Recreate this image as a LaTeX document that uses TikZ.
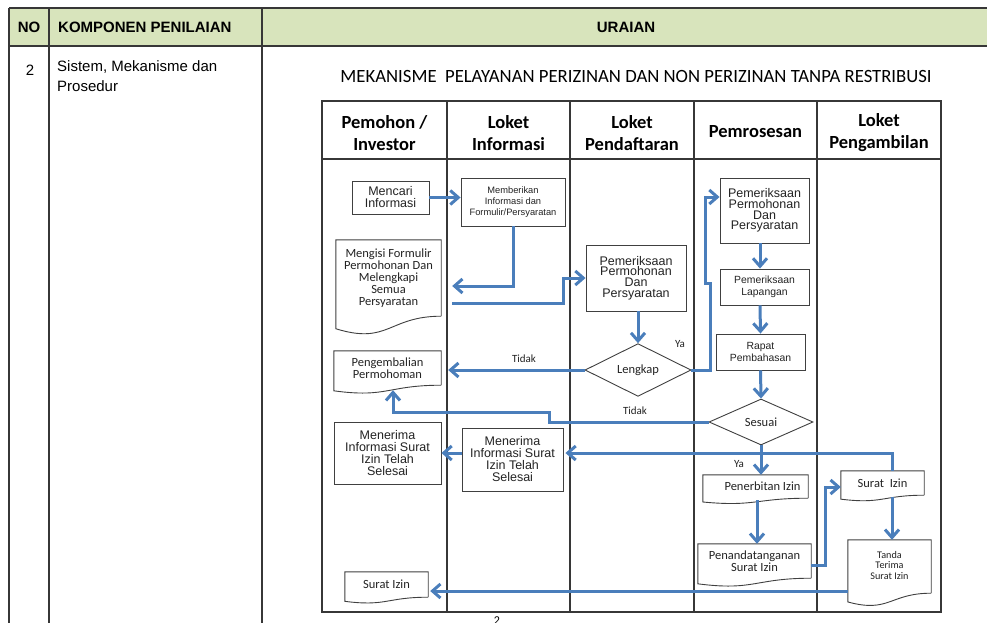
\documentclass[tikz,border=0pt]{standalone}
\usepackage{fontspec}
\setmainfont{Carlito}
\newfontfamily\arialf{Liberation Sans}
\usetikzlibrary{arrows.meta,shapes.geometric,calc}
\definecolor{flow}{RGB}{74,126,187}
\definecolor{boxc}{RGB}{64,64,64}
\definecolor{hdr}{RGB}{216,228,188}
\definecolor{txt}{RGB}{35,35,35}
\definecolor{grid}{RGB}{55,55,55}
\newcommand\docout[2]{%
  \draw[boxline] (#1.south east) -- (#1.north east) -- (#1.north west)
    -- ([yshift=-0.165*#2pt]#1.south west)
    .. controls ([yshift=-0.380*#2pt]#1.south) and (#1.south) .. (#1.south east);}
\tikzset{
  boxline/.style={draw=boxc, line width=0.9pt},
  box/.style={boxline, rectangle, inner sep=0pt, align=center, text=txt},
  doc/.style={rectangle, inner sep=0pt, align=center, text=txt},
  dec/.style={boxline, diamond, inner sep=0pt, text=txt},
  arr/.style={draw=flow, line width=3pt, -{Straight Barb[length=8pt,width=14pt]}},
  lbl/.style={text=txt, inner sep=0pt, font=\fontsize{11}{12}\selectfont},
  gridline/.style={draw=grid, line width=1.3pt},
  lane/.style={text=black, inner sep=0pt, align=center, font=\bfseries\fontsize{18.5}{22}\selectfont},
  tabh/.style={text=black, inner sep=0pt, font=\arialf\bfseries\fontsize{15}{18}\selectfont},
  tabt/.style={text=black, inner sep=0pt, align=left, font=\arialf\fontsize{15}{20}\selectfont},
  fA/.style={font=\arialf\fontsize{12.5}{12}\selectfont},
  fAt/.style={font=\arialf\fontsize{12.5}{10.6}\selectfont},
  fAs/.style={font=\arialf\fontsize{9.3}{11}\selectfont},
  fAm/.style={font=\arialf\fontsize{10.4}{12}\selectfont},
  fC/.style={font=\fontsize{12.5}{12}\selectfont},
  fCs/.style={font=\fontsize{10.2}{10.5}\selectfont},
}
\begin{document}
\begin{tikzpicture}[x=1pt,y=-1pt]
\useasboundingbox (0,0) rectangle (987,623);
\fill[white] (0,0) rectangle (987,623);
% ---------- outer table ----------
\fill[hdr] (9,8) rectangle (987,46);
\draw[gridline] (9,8) -- (987,8);
\draw[gridline] (9,46) -- (987,46);
\draw[gridline] (9,8) -- (9,623);
\draw[gridline] (49,8) -- (49,623);
\draw[gridline] (262,8) -- (262,623);
\node[tabh] (hno) at (29,27) {NO};
\node[tabh, anchor=west] (hkomp) at (58,27) {KOMPONEN PENILAIAN};
\node[tabh] (hurai) at (626,27) {URAIAN};
\node[tabt] (rno) at (30,70) {2};
\node[tabt, anchor=north west] (rkomp) at (57,60) {Sistem, Mekanisme dan\\Prosedur};
\node[text=black, inner sep=0pt, font=\fontsize{18.7}{20}\selectfont] (title) at (636,77)
  {MEKANISME\ \ PELAYANAN PERIZINAN DAN NON PERIZINAN TANPA RESTRIBUSI};
\node[text=black, inner sep=0pt, font=\fontsize{12}{14}\selectfont, anchor=north] (pgno) at (497,617) {2};
% ---------- flowchart frame ----------
\draw[gridline] (322,101) rectangle (941,612);
\draw[gridline] (322,159) -- (941,159);
\foreach \xx in {447,570,694,817} {\draw[gridline] (\xx,101) -- (\xx,612);}
\node[lane] (l1) at (384.5,133) {Pemohon /\\Investor};
\node[lane] (l2) at (508.5,133) {Loket\\Informasi};
\node[lane] (l3) at (632,133) {Loket\\Pendaftaran};
\node[lane] (l4) at (755.5,131.5) {Pemrosesan};
\node[lane] (l5) at (879,133) {Loket\\Pengambilan};
% ---------- boxes ----------
\node[box, fA, minimum width=77pt, minimum height=33pt] (mencari) at (390.5,197.5) {Mencari\\Informasi};
\node[box, fAs, minimum width=104pt, minimum height=48pt] (memberikan) at (513,202) {Memberikan\\Informasi dan\\Formulir/Persyaratan};
\node[doc, fC, minimum width=105pt, minimum height=76pt] (mengisi) at (388.5,278) {Mengisi Formulir\\Permohonan Dan\\Melengkapi\\Semua\\Persyaratan};
\docout{mengisi}{76}
\node[box, fAt, minimum width=100pt, minimum height=66pt] (pemlp) at (636,278) {Pemeriksaan\\Permohonan\\Dan\\Persyaratan};
\node[dec, fC, minimum width=106pt, minimum height=47pt] (lengkap) at (638,370) {Lengkap};
\node[box, fAt, minimum width=89pt, minimum height=65pt] (pempp) at (764.5,210.5) {Pemeriksaan\\Permohonan\\Dan\\Persyaratan};
\node[box, fAm, minimum width=89pt, minimum height=36pt] (lapangan) at (764.5,287) {Pemeriksaan\\Lapangan};
\node[box, fAm, minimum width=89pt, minimum height=36pt] (rapat) at (760.5,352) {Rapat\\Pembahasan};
\node[dec, fC, minimum width=104pt, minimum height=46pt] (sesuai) at (761,422) {Sesuai};
\node[doc, fC, minimum width=107pt, minimum height=34pt] (pengembalian) at (387.5,368) {Pengembalian\\Permohoman};
\docout{pengembalian}{34}
\node[box, fA, minimum width=107pt, minimum height=62pt] (menerima1) at (387.5,453) {Menerima\\Informasi Surat\\Izin Telah\\Selesai};
\node[box, fA, minimum width=101pt, minimum height=63pt] (menerima2) at (512.5,459.5) {Menerima\\Informasi Surat\\Izin Telah\\Selesai};
\node[doc, fC, minimum width=105pt, minimum height=23pt] (penerbitan) at (755.5,486.5) {\hspace*{14pt}Penerbitan Izin};
\docout{penerbitan}{23}
\node[doc, fC, minimum width=113pt, minimum height=34pt] (penandatanganan) at (754.5,561) {Penandatanganan\\Surat Izin};
\docout{penandatanganan}{34}
\node[doc, fC, minimum width=83pt, minimum height=24pt] (suratizin2) at (882.5,483) {Surat\ \ Izin};
\docout{suratizin2}{24}
\node[doc, fCs, minimum width=83pt, minimum height=53pt] (tanda) at (889.5,566.5)
  {\raisebox{3.5pt}{\begin{tabular}{@{}c@{}}Tanda\\Terima\\Surat Izin\end{tabular}}};
\docout{tanda}{53}
\node[doc, fC, minimum width=83pt, minimum height=25pt] (suratizin1) at (386.5,584.5) {Surat Izin};
\docout{suratizin1}{25}
% ---------- helper coordinates ----------
\coordinate (pgE) at ([xshift=7pt]pengembalian.east);
\coordinate (pnS) at ([xshift=1.5pt]penerbitan.south);
\coordinate (s2S) at ([xshift=9.5pt]suratizin2.south);
\coordinate (tq) at ([yshift=-24.5pt]tanda.west);
\coordinate (s1E) at ([xshift=2pt]suratizin1.east);
% ---------- connectors ----------
\draw[arr] (mencari.east) -- (mencari.east -| memberikan.west);
\draw[arr] (memberikan.south) |- ([xshift=11pt,yshift=-8pt]mengisi.east);
\draw[arr] ([xshift=11pt,yshift=-25pt]mengisi.east) -- ++(111,0) |- (pemlp.west);
\draw[arr] (pemlp.south -| lengkap.north) -- (lengkap.north);
\draw[arr] (lengkap.west) -- (pgE |- lengkap.west);
\draw[arr] (lengkap.east) -- ++(19,0) -- ++(0,-87) -- ++(-5,0) |- ([yshift=13.5pt]pempp.west);
\draw[arr] ([xshift=-4.5pt]pempp.south) -- ([xshift=-4.5pt]lapangan.north);
\draw[arr] ([xshift=-4.5pt]lapangan.south) -- (rapat.north);
\draw[arr] (rapat.south) -- (sesuai.north);
\draw[arr] (sesuai.west) -- ++(-159,0) -- ++(0,-10) -| ([xshift=5.5pt,yshift=-5pt]pengembalian.south);
\draw[arr] ([xshift=9.5pt]suratizin2.north) |- ([xshift=2pt,yshift=6.5pt]menerima2.east);
\draw[arr] (sesuai.south) -- (sesuai.south |- penerbitan.north);
\draw[arr] (menerima2.west |- menerima1.east) -- (menerima1.east);
\draw[arr] ([yshift=-2pt]pnS) -- (pnS |- penandatanganan.north);
\draw[arr] ([yshift=-4pt]penandatanganan.east) -- ++(14,0) |- ([yshift=-4pt]suratizin2.west);
\draw[arr] ([yshift=-2pt]s2S) -- (s2S |- tanda.north);
\draw[arr] (tq) -- (s1E |- tq);
% ---------- labels ----------
\node[lbl] (tidak1) at (524,359) {Tidak};
\node[lbl] (tidak2) at (635,411) {Tidak};
\node[lbl] (ya1) at (680,344) {Ya};
\node[lbl] (ya2) at (739,464) {Ya};
\end{tikzpicture}
\end{document}
